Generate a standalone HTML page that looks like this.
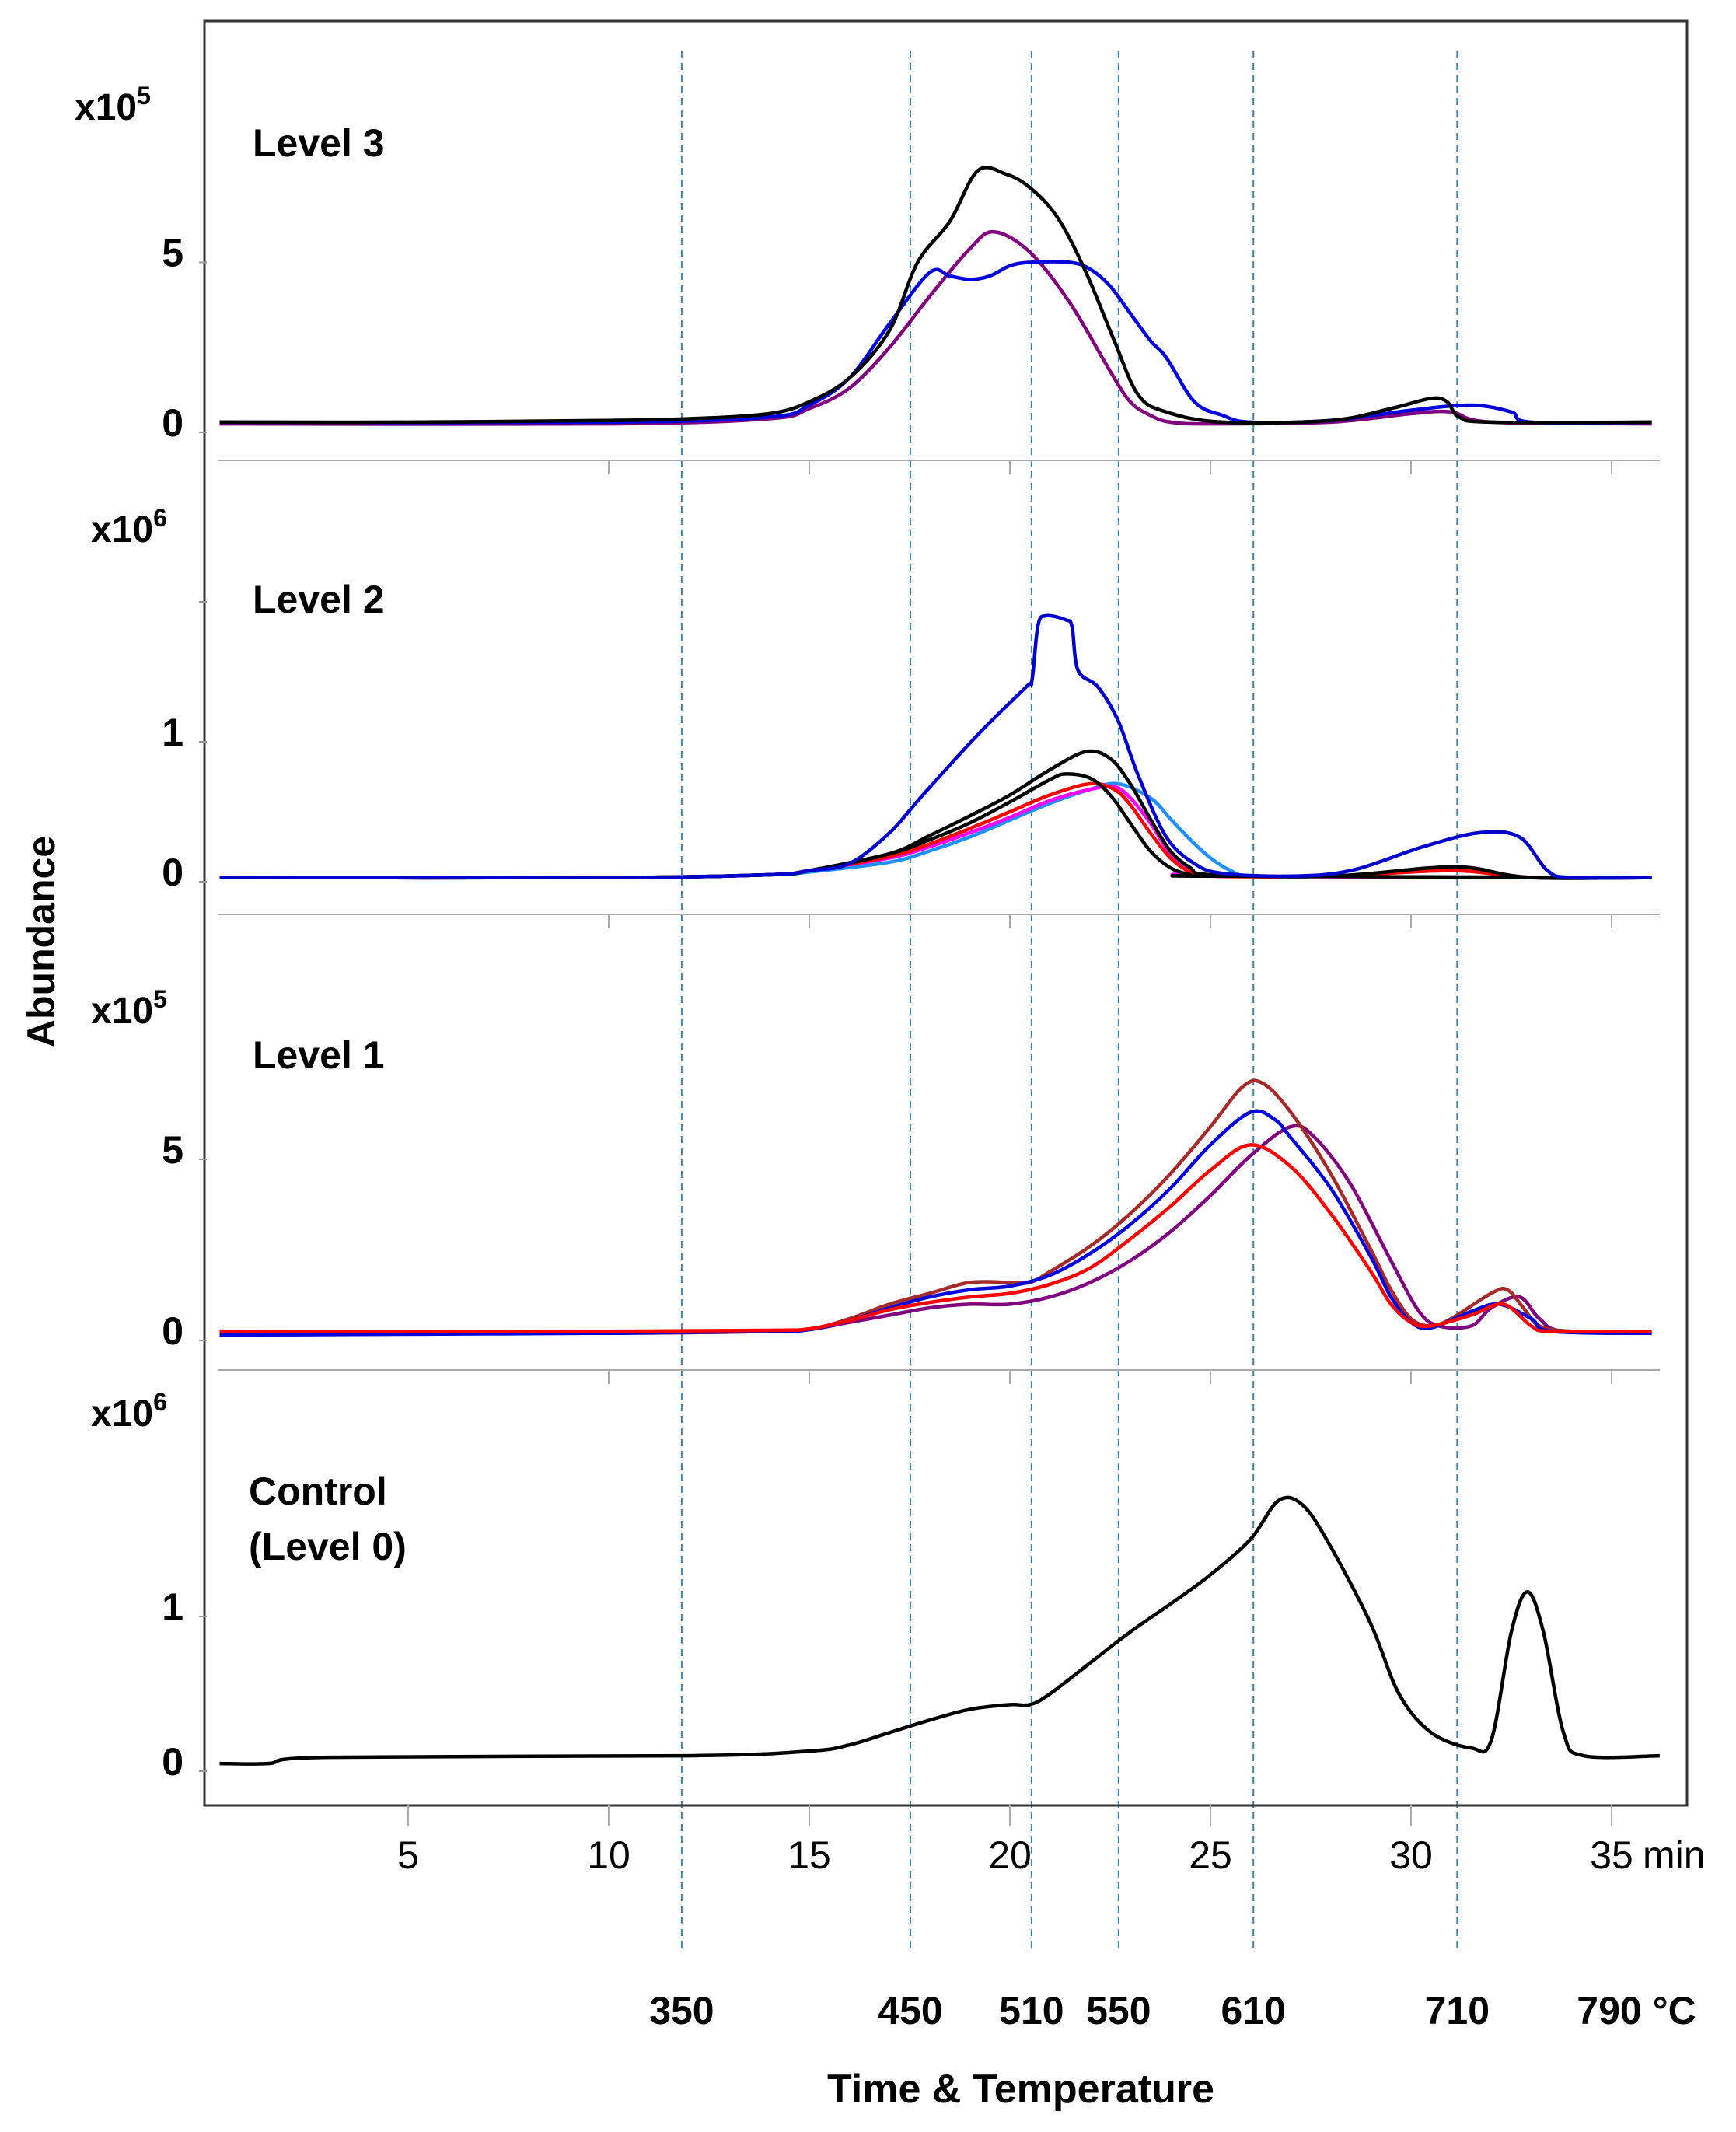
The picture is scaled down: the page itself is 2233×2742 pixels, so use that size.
<!DOCTYPE html>
<html><head><meta charset="utf-8"><style>
html,body{margin:0;padding:0;background:#fff;}
svg{display:block;font-family:"Liberation Sans",Arial,sans-serif;}
</style></head><body>
<svg id="chart" width="2233" height="2742" viewBox="0 0 2233 2742" xmlns="http://www.w3.org/2000/svg">
<rect x="0" y="0" width="2233" height="2742" fill="#fff"/>
<g id="grid"></g>
<g id="series"></g>
<g id="axes"></g>
</svg>
<script>
// ---------- data ----------
const timeTicks = [5, 10, 15, 20, 25, 30, 35];
const tempLabels = ["350", "450", "510", "550", "610", "710"];
const tempTimes = [11.82, 17.52, 20.54, 22.71, 26.07, 31.15];

// Level 3 (x10^5)
const l3BlackT = [0.3, 5, 10, 12, 14, 15, 16, 17, 17.7, 18.5, 19.2, 19.9, 20.5, 21.2, 21.9, 22.6, 23.2, 23.9, 25.3, 28, 29.5, 30.5, 30.9, 31.2, 32, 36];
const l3BlackV = [0.3, 0.3, 0.35, 0.4, 0.55, 0.9, 1.6, 3.0, 5.0, 6.2, 7.7, 7.6, 7.2, 6.3, 4.7, 2.7, 1.1, 0.6, 0.3, 0.35, 0.7, 1.0, 0.9, 0.45, 0.3, 0.3];
const l3PurpleT = [0.3, 10, 14, 15, 16, 17, 18, 19, 19.6, 20.5, 21.5, 22.5, 23, 23.5, 24, 25, 28, 30, 31, 32, 36];
const l3PurpleV = [0.25, 0.25, 0.4, 0.7, 1.3, 2.5, 4.0, 5.4, 5.9, 5.3, 3.8, 1.8, 0.9, 0.5, 0.3, 0.25, 0.3, 0.55, 0.6, 0.3, 0.25];
const l3BlueT = [0.3, 10, 14, 15, 16, 17, 18, 18.5, 19, 19.5, 20, 20.5, 21.5, 22, 22.5, 23, 23.5, 23.9, 24.6, 25.3, 26, 28, 30, 31.5, 32.5, 33, 36];
const l3BlueV = [0.3, 0.3, 0.45, 0.8, 1.6, 3.2, 4.7, 4.6, 4.5, 4.6, 4.9, 5.0, 5.0, 4.8, 4.3, 3.5, 2.7, 2.2, 0.9, 0.5, 0.3, 0.35, 0.65, 0.8, 0.6, 0.3, 0.3];

// Level 2 (x10^6)
const l2BlueT = [0.3, 10, 14, 15, 16, 17, 17.8, 19.2, 20.4, 20.55, 20.7, 20.9, 21.4, 21.55, 21.7, 22.2, 22.7, 23.2, 23.9, 24.6, 25.3, 27, 28.5, 30.3, 31.7, 32.7, 33.4, 34, 36];
const l2BlueV = [0.03, 0.03, 0.05, 0.08, 0.13, 0.35, 0.61, 1.05, 1.39, 1.44, 1.83, 1.9, 1.87, 1.82, 1.51, 1.39, 1.15, 0.76, 0.32, 0.13, 0.06, 0.04, 0.08, 0.25, 0.35, 0.32, 0.08, 0.03, 0.03];
const l2BlackAT = [0.3, 10, 14, 15, 17, 18, 19, 20, 21, 21.9, 22.5, 23, 23.5, 24, 24.5, 25, 28, 30.5, 31.5, 33, 36];
const l2BlackAV = [0.03, 0.03, 0.05, 0.08, 0.2, 0.33, 0.47, 0.62, 0.8, 0.93, 0.88, 0.7, 0.45, 0.22, 0.1, 0.05, 0.04, 0.1, 0.1, 0.03, 0.03];
const l2BlackBT = [0.3, 10, 14, 15, 17, 18, 19, 20, 21, 21.4, 22, 22.5, 23, 23.5, 24, 24.5, 25, 36];
const l2BlackBV = [0.03, 0.03, 0.05, 0.08, 0.2, 0.3, 0.42, 0.57, 0.73, 0.77, 0.74, 0.62, 0.42, 0.22, 0.1, 0.05, 0.04, 0.03];
const l2RedT = [0.3, 10, 14, 15, 17, 18, 19, 20, 21, 22, 22.6, 23, 23.5, 24, 24.5, 25, 28, 31, 33, 36];
const l2RedV = [0.03, 0.03, 0.05, 0.08, 0.18, 0.27, 0.38, 0.5, 0.62, 0.7, 0.66, 0.55, 0.35, 0.17, 0.07, 0.04, 0.04, 0.08, 0.03, 0.03];
const l2MagentaT = [0.3, 10, 14, 15, 17, 18, 19, 20, 21, 22, 22.6, 23, 23.5, 24, 24.5, 25, 36];
const l2MagentaV = [0.03, 0.03, 0.05, 0.08, 0.17, 0.25, 0.35, 0.46, 0.58, 0.66, 0.68, 0.6, 0.42, 0.2, 0.08, 0.04, 0.03];
const l2LightT = [0.3, 10, 14, 15, 17, 18, 19, 20, 21, 22, 22.7, 23.5, 24, 24.5, 25, 25.5, 26, 28, 31, 33, 36];
const l2LightV = [0.03, 0.03, 0.05, 0.07, 0.14, 0.22, 0.32, 0.44, 0.56, 0.66, 0.7, 0.6, 0.45, 0.3, 0.17, 0.08, 0.04, 0.04, 0.09, 0.03, 0.03];

// Level 1 (x10^5)
const l1BrownT = [0.3, 10, 14, 15, 16, 17, 18, 19, 20, 20.5, 21, 22, 23, 24, 25, 25.8, 26.3, 27, 28, 29, 29.5, 30, 30.5, 31, 32, 32.4, 32.8, 33.2, 34, 36];
const l1BrownV = [0.2, 0.2, 0.25, 0.3, 0.6, 1.0, 1.3, 1.6, 1.6, 1.6, 1.9, 2.6, 3.5, 4.6, 5.9, 7.0, 7.1, 6.3, 4.6, 2.5, 1.4, 0.6, 0.4, 0.6, 1.3, 1.4, 0.9, 0.4, 0.25, 0.2];
const l1BlueT = [0.3, 10, 14, 15, 16, 17, 18, 19, 20, 21, 22, 23, 24, 25, 26, 26.6, 27, 28, 29, 29.5, 30, 30.5, 31.5, 32.2, 33, 33.5, 36];
const l1BlueV = [0.15, 0.2, 0.25, 0.3, 0.55, 0.9, 1.2, 1.4, 1.5, 1.8, 2.4, 3.2, 4.2, 5.4, 6.3, 6.1, 5.6, 4.2, 2.3, 1.2, 0.5, 0.35, 0.8, 1.0, 0.6, 0.25, 0.2];
const l1RedT = [0.3, 10, 14, 15, 16, 17, 18, 19, 20, 21, 22, 23, 24, 25, 26, 27, 28, 29, 29.5, 30, 30.5, 31.5, 32.3, 33, 33.5, 36];
const l1RedV = [0.25, 0.25, 0.28, 0.32, 0.55, 0.85, 1.05, 1.2, 1.3, 1.55, 2.0, 2.8, 3.7, 4.7, 5.4, 4.8, 3.5, 1.9, 1.0, 0.5, 0.4, 0.7, 1.0, 0.4, 0.25, 0.25];
const l1PurpleT = [0.3, 10, 14, 15, 16, 17, 18, 19, 20, 21, 22, 23, 24, 25, 26, 27, 27.6, 28.5, 29.5, 30.2, 30.7, 31.5, 32, 32.7, 33.2, 33.8, 36];
const l1PurpleV = [0.2, 0.2, 0.25, 0.3, 0.5, 0.7, 0.9, 1.0, 1.0, 1.2, 1.6, 2.2, 3.0, 4.0, 5.1, 5.9, 5.6, 4.3, 2.2, 0.8, 0.4, 0.4, 0.9, 1.2, 0.6, 0.25, 0.2];

// Control (x10^6)
const l0BlackT = [0.3, 1.5, 3, 12, 15, 16, 17, 18, 19, 20, 20.5, 21, 22, 23, 24, 25, 26, 26.7, 27.3, 28, 29, 29.7, 30.5, 31.5, 32, 32.5, 32.9, 33.3, 33.8, 34.3, 36.2];
const l0BlackV = [0.05, 0.05, 0.09, 0.1, 0.13, 0.17, 0.25, 0.33, 0.4, 0.43, 0.43, 0.5, 0.7, 0.9, 1.08, 1.27, 1.5, 1.75, 1.72, 1.45, 0.95, 0.5, 0.25, 0.15, 0.2, 0.9, 1.16, 0.9, 0.25, 0.1, 0.1];

// ---------- axes ----------
const NS = "http://www.w3.org/2000/svg";
const xOf = t => 267 + 51.6 * t;
const panels = {
  l3: {y0: 556, ppu: 43.7},
  l2: {y0: 1134, ppu: 180},
  l1: {y0: 1724, ppu: 46.6},
  l0: {y0: 2278, ppu: 199}
};
const yOf = (p, v) => panels[p].y0 - panels[p].ppu * v;

function el(tag, attrs, parent, text) {
  const e = document.createElementNS(NS, tag);
  for (const k in attrs) e.setAttribute(k, attrs[k]);
  if (text !== undefined) e.textContent = text;
  parent.appendChild(e);
  return e;
}
const grid = document.getElementById('grid');
const series = document.getElementById('series');
const axes = document.getElementById('axes');

tempTimes.forEach((t, i) => {
  const l = el('line', {x1: xOf(t), x2: xOf(t), y1: 66, y2: 2506, stroke: '#3f85ad', 'stroke-width': 2, 'stroke-dasharray': '9,6'}, grid);
  
  
  const tx = el('text', {x: xOf(t), y: 2603, 'text-anchor': 'middle', 'font-size': 50, 'font-weight': 'bold'}, axes, tempLabels[i]);
  
  
});
const t790 = el('text', {x: 2105, y: 2603, 'text-anchor': 'middle', 'font-size': 50, 'font-weight': 'bold'}, axes, "790 °C");



const frame = el('rect', {x: 263, y: 27, width: 1907, height: 2295, fill: 'none', stroke: '#333', 'stroke-width': 3}, axes);



[592, 1176, 1762].forEach((y, i) => {
  const s = el('line', {x1: 280, x2: 2135, y1: y, y2: y, stroke: '#aaa', 'stroke-width': 2}, axes);
  
  
  timeTicks.forEach(t => {
    if (t < 10) return;
    const k = el('line', {x1: xOf(t), x2: xOf(t), y1: y, y2: y + 18, stroke: '#aaa', 'stroke-width': 2}, axes);
    
    
  });
});

timeTicks.forEach(t => {
  const k = el('line', {x1: xOf(t), x2: xOf(t), y1: 2322, y2: 2348, stroke: '#aaa', 'stroke-width': 2}, axes);
  
  
  const lb = el('text', {x: xOf(t), y: 2403, 'text-anchor': 'middle', 'font-size': 50}, axes, String(t));
  
  
});
const minL = el('text', {x: xOf(35) + 40, y: 2403, 'font-size': 50}, axes, "min");



const yTicks = [
  ['l3', [0, 5], ['0', '5']],
  ['l2', [0, 1, 2], ['0', '1', '']],
  ['l1', [0, 5], ['0', '5']],
  ['l0', [0, 1], ['0', '1']]
];
yTicks.forEach(([p, vals, labs]) => {
  vals.forEach((v, i) => {
    const y = yOf(p, v);
    const k = el('line', {x1: 256, x2: 266, y1: y, y2: y, stroke: '#999', 'stroke-width': 2}, axes);
    
    
    if (labs[i]) {
      const lb = el('text', {x: 236, y: y + 5, 'text-anchor': 'end', 'font-size': 50, 'font-weight': 'bold'}, axes, labs[i]);
      
      
    }
  });
});

function scaleLabel(x, y, exp, name) {
  const t = el('text', {x: x, y: y, 'font-size': 48, 'font-weight': 'bold'}, axes);
  
  
  const a = document.createElementNS(NS, 'tspan'); a.textContent = 'x10'; t.appendChild(a);
  const b = document.createElementNS(NS, 'tspan'); b.textContent = exp;
  b.setAttribute('font-size', 32); b.setAttribute('dy', -20); t.appendChild(b);
}
scaleLabel(96, 154, '5', 'level3-scale');
scaleLabel(117, 697, '6', 'level2-scale');
scaleLabel(117, 1316, '5', 'level1-scale');
scaleLabel(117, 1834, '6', 'control-scale');
[['Level 3', 325, 201, 'level3-title'], ['Level 2', 325, 788, 'level2-title'], ['Level 1', 325, 1374, 'level1-title'],
 ['Control', 320, 1935, 'control-title'], ['(Level 0)', 320, 2006, 'control-subtitle']].forEach(([s, x, y, n]) => {
  const t = el('text', {x: x, y: y, 'font-size': 50, 'font-weight': 'bold'}, axes, s);
  
  
});
const ab = el('text', {x: 0, y: 0, 'font-size': 50, 'font-weight': 'bold', 'text-anchor': 'middle', transform: 'translate(70,1211) rotate(-90)'}, axes, 'Abundance');


const xt = el('text', {x: 1313, y: 2704, 'font-size': 52, 'font-weight': 'bold', 'text-anchor': 'middle'}, axes, 'Time & Temperature');



function drawLine(p, ts, vs, color, name) {
  const pts = ts.map((t, i) => [xOf(t), yOf(p, vs[i])]);
  let d = 'M' + pts[0][0].toFixed(1) + ',' + pts[0][1].toFixed(1);
  for (let i = 0; i < pts.length - 1; i++) {
    const p0 = pts[i - 1] || pts[i], p1 = pts[i], p2 = pts[i + 1], p3 = pts[i + 2] || p2;
    const c1 = [p1[0] + (p2[0] - p0[0]) / 6, p1[1] + (p2[1] - p0[1]) / 6];
    const c2 = [p2[0] - (p3[0] - p1[0]) / 6, p2[1] - (p3[1] - p1[1]) / 6];
    d += 'C' + c1[0].toFixed(1) + ',' + c1[1].toFixed(1) + ' ' + c2[0].toFixed(1) + ',' + c2[1].toFixed(1) + ' ' + p2[0].toFixed(1) + ',' + p2[1].toFixed(1);
  }
  const path = el('path', {d: d, fill: 'none', stroke: color, 'stroke-width': 4.5, 'stroke-linejoin': 'round'}, series);
  
  
}
drawLine('l3', l3PurpleT, l3PurpleV, '#800080', 'level3-purple');
drawLine('l3', l3BlueT, l3BlueV, '#0000dd', 'level3-blue');
drawLine('l3', l3BlackT, l3BlackV, '#000', 'level3-black');
drawLine('l2', l2LightT, l2LightV, '#1e90ff', 'level2-lightblue');
drawLine('l2', l2MagentaT, l2MagentaV, '#ff00ff', 'level2-magenta');
drawLine('l2', l2RedT, l2RedV, '#ff0000', 'level2-red');
drawLine('l2', l2BlackBT, l2BlackBV, '#000', 'level2-black-b');
drawLine('l2', l2BlackAT, l2BlackAV, '#000', 'level2-black-a');
drawLine('l2', l2BlueT, l2BlueV, '#0000cc', 'level2-blue');
drawLine('l1', l1PurpleT, l1PurpleV, '#800080', 'level1-purple');
drawLine('l1', l1BrownT, l1BrownV, '#a52a2a', 'level1-brown');
drawLine('l1', l1BlueT, l1BlueV, '#0000dd', 'level1-blue');
drawLine('l1', l1RedT, l1RedV, '#ff0000', 'level1-red');
drawLine('l0', l0BlackT, l0BlackV, '#000', 'control-black');
</script>
</body></html>
